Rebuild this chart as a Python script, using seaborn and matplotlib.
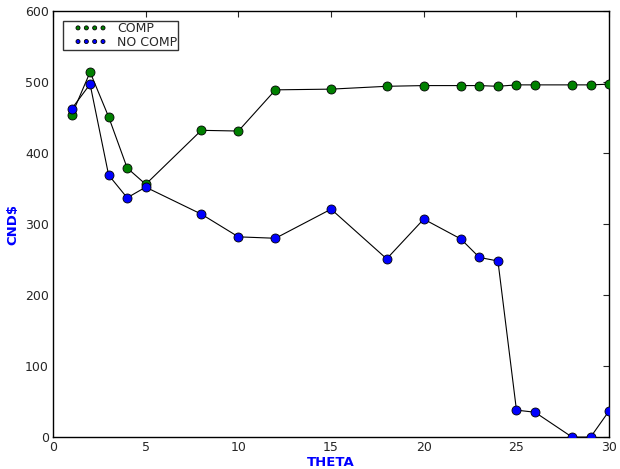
import pandas as pd
import seaborn as sns
import matplotlib
matplotlib.use("Agg")
import matplotlib.pyplot as plt
from matplotlib.collections import PathCollection
from matplotlib.legend_handler import HandlerPathCollection

theta = [1, 2, 3, 4, 5, 8, 10, 12, 15, 18, 20, 22, 23, 24, 25, 26, 28, 29, 30]
comp = [453, 514, 451, 379, 356, 432, 431, 489, 490, 494, 495, 495, 495, 494,
        496, 496, 496, 496, 497]
no_comp = [462, 497, 369, 337, 352, 314, 282, 280, 321, 251, 307, 279, 253, 248,
           38, 35, 0, 0, 37]

df = pd.DataFrame({"THETA": theta, "COMP": comp, "NO COMP": no_comp})

sns.set_style("white", {
    "xtick.direction": "in",
    "ytick.direction": "in",
    "axes.edgecolor": "black",
})
plt.rcParams["font.family"] = ["DejaVu Sans"]
plt.rcParams["xtick.top"] = True
plt.rcParams["ytick.right"] = True
plt.rcParams["xtick.major.size"] = 4
plt.rcParams["ytick.major.size"] = 4
plt.rcParams["xtick.labelsize"] = 9
plt.rcParams["ytick.labelsize"] = 9
plt.rcParams["xtick.major.pad"] = 3
plt.rcParams["ytick.major.pad"] = 3

fig = plt.figure(figsize=(6.2, 4.69), dpi=100)
ax = fig.add_axes([0.0855, 0.068, 0.897, 0.9085])

for name, color in [("COMP", "#008000"), ("NO COMP", "#0000ff")]:
    sns.lineplot(data=df, x="THETA", y=name, ax=ax, color="black",
                 linewidth=0.8, zorder=2, legend=False, errorbar=None)
    sns.scatterplot(data=df, x="THETA", y=name, ax=ax, color=color,
                    edgecolor="black", linewidth=0.6, s=42, zorder=3,
                    label=name)

ax.set_xlim(0, 30)
ax.set_ylim(0, 600)
ax.set_xticks([0, 5, 10, 15, 20, 25, 30])
ax.set_yticks([0, 100, 200, 300, 400, 500, 600])
ax.set_xlabel("THETA", color="blue", fontweight="bold", fontsize=9.5, labelpad=1)
ax.set_ylabel("CND$", color="blue", fontweight="bold", fontsize=9.5, labelpad=4)
for sp in ax.spines.values():
    sp.set_linewidth(1.0)

leg = ax.legend(loc="upper left", scatterpoints=4, numpoints=4,
                scatteryoffsets=[0.5], fontsize=9,
                frameon=True, fancybox=False, borderpad=0.1, labelspacing=0.05,
                handlelength=3.4, handletextpad=0.8, borderaxespad=0.8,
                markerscale=0.45,
                handler_map={PathCollection: HandlerPathCollection(xpad=0.8)})
leg.get_frame().set_edgecolor("black")
leg.get_frame().set_linewidth(1.0)

fig.savefig("out.png", dpi=100)
